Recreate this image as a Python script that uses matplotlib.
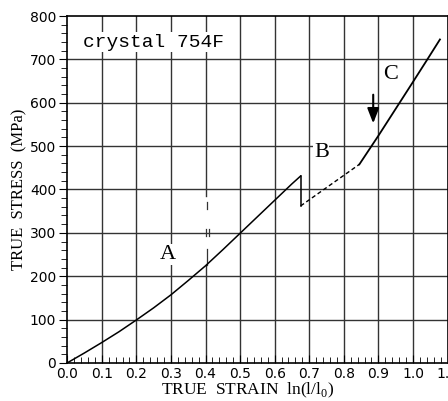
import matplotlib.pyplot as plt
from matplotlib.ticker import MultipleLocator

plt.rcParams['mathtext.fontset'] = 'custom'
plt.rcParams['mathtext.rm'] = 'Liberation Serif'

# region A
strain_a = [0.0, 0.05, 0.1, 0.15, 0.2, 0.25, 0.3, 0.35, 0.4, 0.45, 0.5, 0.55, 0.6, 0.65, 0.675]
stress_a = [0, 23, 47, 72, 99, 127, 157, 190, 224, 261, 299, 337, 375, 413, 431]
# unloading drop
strain_drop = [0.675, 0.675]
stress_drop = [431, 362]
# region B (dashed)
strain_b = [0.675, 0.845]
stress_b = [362, 458]
# region C
strain_c = [0.845, 0.87, 0.9, 0.95, 1.0, 1.04, 1.078]
stress_c = [458, 488, 524, 586, 648, 698, 746]

labels = ['A', 'B', 'C']
label_x = [0.29, 0.735, 0.935]
label_y = [250, 485, 665]

serif = 'Liberation Serif'

fig = plt.figure(figsize=(4.48, 4.01), dpi=100)
ax = fig.add_axes([0.150, 0.095, 0.849, 0.865])

ax.set_xlim(0, 1.1)
ax.set_ylim(0, 800)

# grid drawn by hand so the 0.4 line can have its gap
for gx in [0.1, 0.2, 0.3, 0.5, 0.6, 0.7, 0.8, 0.9, 1.0]:
    ax.axvline(gx, color='#333333', lw=1.0, zorder=1)
ax.plot([0.4, 0.4], [0, 225], color='#333333', lw=1.0, zorder=1)
ax.plot([0.4, 0.4], [385, 800], color='#333333', lw=1.0, zorder=1)
for gy in range(100, 800, 100):
    ax.axhline(gy, color='#333333', lw=1.0, zorder=1)
# break marks on the 0.4 line
ax.plot([0.403, 0.403], [355, 372], color='#333333', lw=0.9)
ax.plot([0.401, 0.401], [292, 309], color='#333333', lw=0.9)
ax.plot([0.41, 0.41], [292, 309], color='#333333', lw=0.9)
ax.plot([0.403, 0.403], [225, 263], color='#333333', lw=0.9)

ax.plot(strain_a, stress_a, color='black', lw=1.1, zorder=3)
ax.plot(strain_drop, stress_drop, color='black', lw=1.1, zorder=3)
ax.plot(strain_b, stress_b, color='black', lw=1.0, ls=(0, (3, 2)), zorder=3)
ax.plot(strain_c, stress_c, color='black', lw=1.3, zorder=3)

for lab, lx, ly in zip(labels, label_x, label_y):
    ax.text(lx, ly, lab, family=serif, fontsize=16, ha='center', va='center', zorder=4,
            bbox=dict(facecolor='white', edgecolor='none', pad=0.5))

ax.text(0.045, 740, 'crystal 754F', family='Liberation Mono', fontsize=14, ha='left',
        va='center', zorder=4, bbox=dict(facecolor='white', edgecolor='none', pad=1))

ax.annotate('', xy=(0.885, 546), xytext=(0.885, 625),
            arrowprops=dict(arrowstyle='-|>,head_length=0.9,head_width=0.35',
                            color='black', lw=1.5), zorder=4)

ax.xaxis.set_minor_locator(MultipleLocator(0.02))
ax.yaxis.set_major_locator(MultipleLocator(100))
ax.yaxis.set_minor_locator(MultipleLocator(20))
ax.set_xticks([i / 10 for i in range(12)])
ax.set_xticklabels(['%.1f' % (i / 10) for i in range(12)])
ax.tick_params(axis='x', which='both', direction='in', labelsize=10, pad=3)
ax.tick_params(axis='x', which='major', length=6)
ax.tick_params(axis='x', which='minor', length=4)
ax.tick_params(axis='y', which='both', direction='out', labelsize=10, pad=2)
ax.tick_params(axis='y', which='major', length=6)
ax.tick_params(axis='y', which='minor', length=4)
for s in ax.spines.values():
    s.set_linewidth(1.2)

ax.set_xlabel('TRUE  STRAIN  ln(l/l$_\\mathrm{0}$)', family=serif, fontsize=12.5)
ax.xaxis.set_label_coords(0.475, -0.052, transform=ax.transAxes)
ax.xaxis.label.set_va('top')
ax.set_ylabel('TRUE  STRESS  (MPa)', family=serif, fontsize=12, labelpad=2)

fig.savefig('out.png', dpi=100)
